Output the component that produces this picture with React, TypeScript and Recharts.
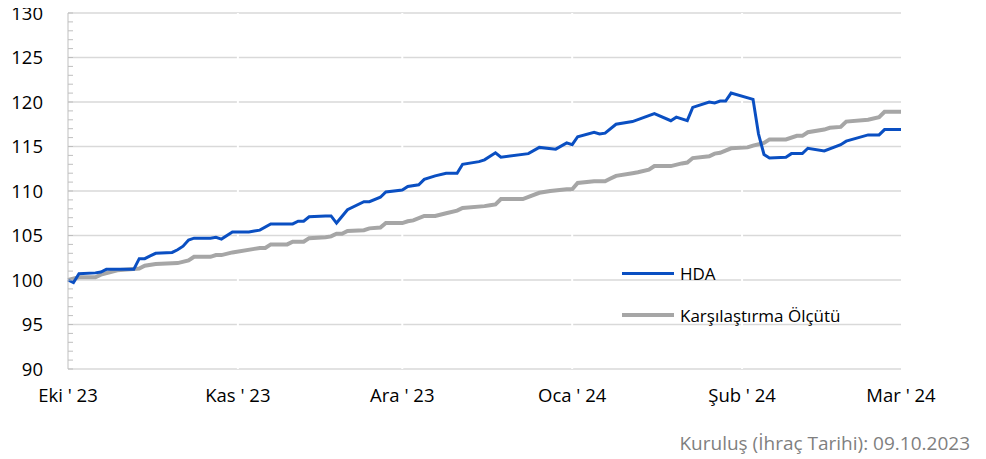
import { LineChart, Line, XAxis, YAxis, ReferenceLine } from "recharts";

// gün = 09.10.2023'ten itibaren geçen gün sayısı
const hdaDays = [
  0, 1, 2, 5, 6, 7, 12, 13, 14, 15, 16, 19, 20, 21, 22, 23, 26, 27, 28, 30, 33,
  34, 35, 37, 41, 42, 43, 44, 47, 48, 49, 51, 54, 55, 57, 58, 61, 62, 64, 65,
  67, 69, 71, 72, 75, 76, 78, 79, 84, 86, 89, 91, 92, 93, 96, 97, 98, 100, 103,
  107, 110, 111, 113, 114, 117, 118, 119, 120, 121, 125, 126, 127, 128, 131,
  132, 134, 135, 138, 141, 142, 146, 148, 149, 152,
];
const hdaValues = [
  100.0, 99.7, 100.7, 100.8, 100.9, 101.2, 101.2, 102.4, 102.4, 102.7, 103.0,
  103.1, 103.4, 103.8, 104.5, 104.7, 104.7, 104.8, 104.6, 105.4, 105.4, 105.5,
  105.6, 106.3, 106.3, 106.6, 106.6, 107.1, 107.2, 107.2, 106.4, 107.9, 108.8,
  108.8, 109.3, 109.9, 110.1, 110.5, 110.7, 111.3, 111.7, 112.0, 112.0, 113.0,
  113.3, 113.5, 114.3, 113.8, 114.2, 114.9, 114.7, 115.4, 115.2, 116.1, 116.6,
  116.4, 116.5, 117.5, 117.8, 118.7, 117.9, 118.3, 117.9, 119.4, 120.0, 119.9,
  120.1, 120.1, 121.0, 120.3, 116.4, 114.1, 113.7, 113.8, 114.2, 114.2, 114.8,
  114.5, 115.2, 115.6, 116.3, 116.3, 116.9, 116.9,
];

const benchDays = [
  0, 2, 5, 6, 9, 13, 14, 16, 20, 22, 23, 26, 27, 28, 30, 34, 35, 36, 37, 40, 41,
  43, 44, 47, 48, 49, 50, 51, 54, 55, 57, 58, 61, 62, 63, 65, 67, 69, 71, 72,
  76, 77, 78, 79, 83, 86, 88, 91, 92, 93, 96, 98, 99, 100, 103, 104, 106, 107,
  110, 112, 113, 114, 117, 118, 119, 121, 124, 125, 127, 128, 131, 133, 134,
  135, 138, 139, 141, 142, 146, 148, 149, 152,
];
const benchValues = [
  100.0, 100.3, 100.3, 100.6, 101.1, 101.3, 101.6, 101.8, 101.9, 102.2, 102.6,
  102.6, 102.8, 102.8, 103.1, 103.5, 103.6, 103.6, 104.0, 104.0, 104.3, 104.3,
  104.7, 104.8, 104.9, 105.2, 105.2, 105.5, 105.6, 105.8, 105.9, 106.4, 106.4,
  106.6, 106.7, 107.2, 107.2, 107.5, 107.8, 108.1, 108.3, 108.4, 108.5, 109.1,
  109.1, 109.8, 110.0, 110.2, 110.2, 110.9, 111.1, 111.1, 111.4, 111.7, 112.0,
  112.1, 112.4, 112.8, 112.8, 113.1, 113.2, 113.7, 113.9, 114.2, 114.3, 114.8,
  114.9, 115.1, 115.4, 115.8, 115.8, 116.2, 116.2, 116.6, 116.9, 117.1, 117.2,
  117.8, 118.0, 118.3, 118.9, 118.9,
];

const monthTicks = [0, 31, 61, 92, 123, 152];
const monthLabels = ["Eki ' 23", "Kas ' 23", "Ara ' 23", "Oca ' 24", "Şub ' 24", "Mar ' 24"];
const gridValues = [90, 95, 100, 105, 110, 115, 120, 125, 130];
const yTicks = Array.from({ length: 41 }, (_, i) => 90 + i);

const hdaData = hdaDays.map((d, i) => ({ d, v: hdaValues[i] }));
const benchData = benchDays.map((d, i) => ({ d, v: benchValues[i] }));

const FONT = "'Open Sans', sans-serif";
const BLUE = "#0a4fc2";
const GREY = "#a6a6a6";

const YTick = (props: any) => {
  const { x, y, payload } = props;
  const major = payload.value % 5 === 0;
  return (
    <g>
      <line x1={x} x2={x + 5} y1={y} y2={y} stroke="#bfbfbf" strokeWidth={1} />
      {major && (
        <text x={x - 25} y={y} dy="0.36em" textAnchor="end" fill="#000" fontSize={18.5} fontFamily={FONT}>
          {payload.value}
        </text>
      )}
    </g>
  );
};

const legendItems = [
  { name: "HDA", color: BLUE, w: 3 },
  { name: "Karşılaştırma Ölçütü", color: GREY, w: 4 },
];

export default function App() {
  return (
    <div style={{ position: "relative", width: 978, height: 459, marginTop: -8, fontFamily: FONT }}>
      <LineChart width={960} height={428} margin={{ top: 13, right: 67, left: 0, bottom: 14 }}>
        <XAxis
          dataKey="d"
          type="number"
          domain={[0, 152]}
          ticks={monthTicks}
          tickFormatter={(v: number) => monthLabels[monthTicks.indexOf(v)]}
          axisLine={false}
          tickLine={false}
          tickSize={0}
          tickMargin={20}
          height={45}
          interval={0}
          allowDuplicatedCategory={false}
          tick={{ fill: "#000", fontSize: 18.5, fontFamily: FONT }}
        />
        <YAxis
          type="number"
          domain={[90, 130]}
          ticks={yTicks}
          interval={0}
          width={60}
          tickSize={0}
          tickMargin={0}
          tickLine={false}
          axisLine={{ stroke: "#bfbfbf" }}
          tick={<YTick />}
        />
        {gridValues.map((g) => (
          <ReferenceLine key={"h" + g} y={g} stroke="#d9d9d9" strokeWidth={1.5} />
        ))}
        {monthTicks.slice(1, 5).map((m) => (
          <ReferenceLine key={"v" + m} x={m} stroke="#ffffff" strokeWidth={2} />
        ))}
        <Line
          data={benchData}
          dataKey="v"
          name="Karşılaştırma Ölçütü"
          type="linear"
          stroke={GREY}
          strokeWidth={4}
          dot={false}
          isAnimationActive={false}
        />
        <Line
          data={hdaData}
          dataKey="v"
          name="HDA"
          type="linear"
          stroke={BLUE}
          strokeWidth={3}
          dot={false}
          isAnimationActive={false}
        />
      </LineChart>
      <div style={{ position: "absolute", left: 614, top: 258, fontSize: 17, color: "#000" }}>
        {legendItems.map((it) => (
          <div key={it.name} style={{ display: "flex", alignItems: "center", height: 30, marginBottom: 12 }}>
            <div style={{ width: 52, height: it.w, background: it.color, marginRight: 6 }} />
            <span>{it.name}</span>
          </div>
        ))}
      </div>
      <div
        style={{
          position: "absolute",
          right: 16,
          top: 430,
          fontSize: 19,
          color: "#7f7f7f",
        }}
      >
        Kuruluş (İhraç Tarihi): 09.10.2023
      </div>
      <div style={{ position: "absolute", left: 975, top: 0, width: 3, height: 459, background: "#f0f0f0" }} />
    </div>
  );
}
